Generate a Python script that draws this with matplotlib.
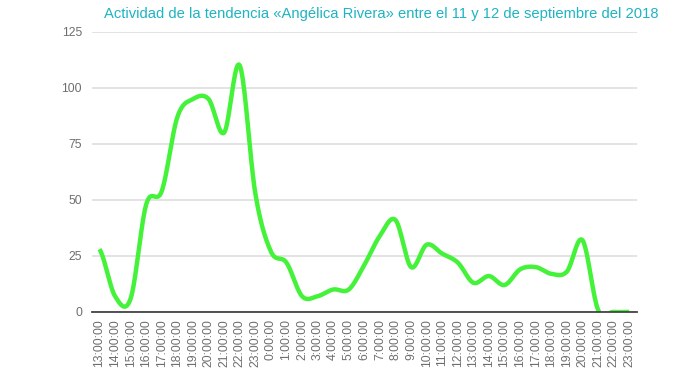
import numpy as np
import matplotlib
matplotlib.use('Agg')
import matplotlib.pyplot as plt

plt.rcParams['font.family'] = ['Liberation Sans', 'DejaVu Sans']

# horas: 13:00 del 11 hasta 23:00 del 12
hours = list(range(13, 24)) + list(range(0, 24))
labels = [f'{h}:00:00' for h in hours]
values = [28, 7, 6, 48, 54, 87, 95, 95, 80, 110, 53,
          27, 22, 7, 7, 10, 10, 21, 34, 41, 20, 30, 26, 22,
          13, 16, 12, 19, 20, 17, 18, 32, 1, 0, 0]

title = 'Actividad de la tendencia «Angélica Rivera» entre el 11 y 12 de septiembre del 2018'


def smooth(x, y, n=20):
    # Catmull-Rom para imitar la curva suavizada
    x = np.asarray(x, float)
    y = np.asarray(y, float)
    yp = np.concatenate([[y[0]], y, [y[-1]]])
    xs, ys = [], []
    for i in range(len(x) - 1):
        p0, p1, p2, p3 = yp[i], yp[i + 1], yp[i + 2], yp[i + 3]
        m1 = (p2 - p0) / 2
        m2 = (p3 - p1) / 2
        t = np.linspace(0, 1, n, endpoint=False)
        h00 = 2 * t**3 - 3 * t**2 + 1
        h10 = t**3 - 2 * t**2 + t
        h01 = -2 * t**3 + 3 * t**2
        h11 = t**3 - t**2
        xs.append(x[i] + t * (x[i + 1] - x[i]))
        ys.append(h00 * p1 + h10 * m1 + h01 * p2 + h11 * m2)
    xs.append([x[-1]])
    ys.append([y[-1]])
    return np.concatenate(xs), np.concatenate(ys)


x = np.arange(len(values))
sx, sy = smooth(x, values)

fig = plt.figure(figsize=(7, 3.7), dpi=100)
ax = fig.add_axes([0.131, 0.157, 0.779, 0.757])

ax.plot(sx, sy, color='#45f23a', lw=3.2, solid_capstyle='butt', zorder=3)

ax.set_xlim(-0.5, len(values) - 0.5)
ax.set_ylim(0, 125)
ax.set_yticks([0, 25, 50, 75, 100, 125])
ax.set_xticks(x)
ax.set_xticklabels(labels, rotation=90)
ax.tick_params(axis='both', length=0, colors='#6e6e6e', labelsize=8.8)
ax.tick_params(axis='y', pad=7)
ax.tick_params(axis='x', pad=5)

ax.grid(axis='y', color='#e0e0e0', lw=1.3)
ax.set_axisbelow(True)
for s in ['top', 'right', 'left']:
    ax.spines[s].set_visible(False)
ax.spines['bottom'].set_color('#444444')
ax.spines['bottom'].set_linewidth(1.3)
ax.spines['bottom'].set_zorder(4)

fig.text(0.544, 0.962, title, color='#1db4c3', fontsize=10.6,
         ha='center', va='center')

fig.savefig('out.png', dpi=100)
